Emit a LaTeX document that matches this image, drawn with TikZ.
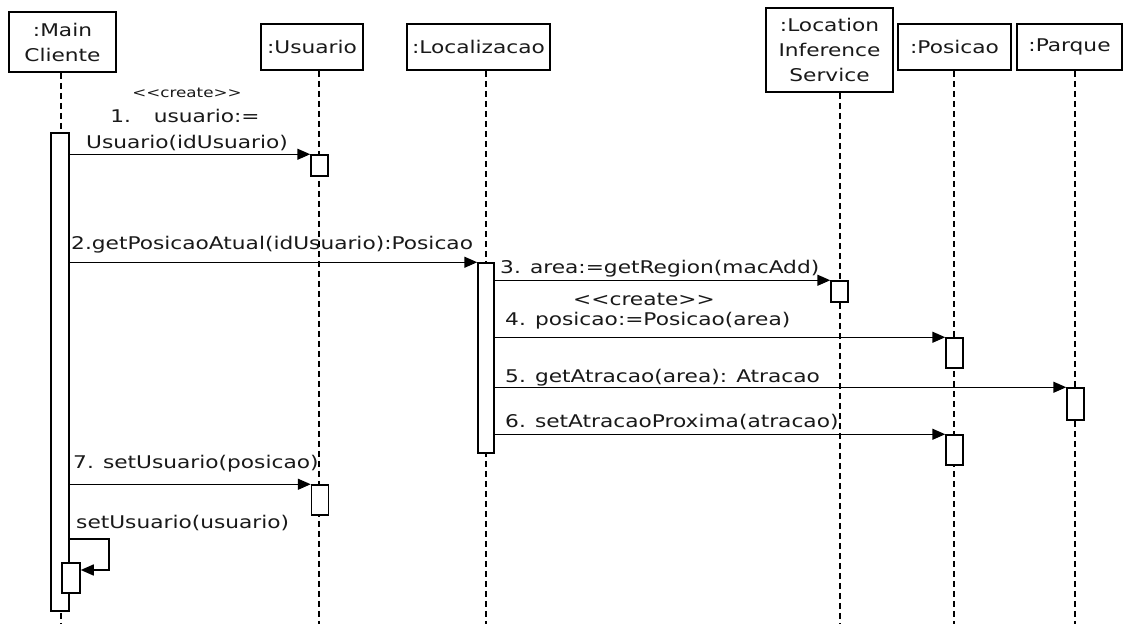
\documentclass[tikz,border=0pt]{standalone}
\usepackage{fontspec}
\setmainfont{DejaVu Sans}[FakeStretch=1.24]
\usetikzlibrary{arrows.meta}

\begin{document}
\begin{tikzpicture}[x=1pt,y=-1pt,
  every node/.style={font=\fontsize{17.5}{25}\selectfont, text=black!90},
  obj/.style={draw, line width=1.5pt, fill=white, inner sep=0pt, align=center},
  act/.style={draw, line width=1.5pt, fill=white, inner sep=0pt, minimum width=17pt},
  life/.style={line width=1.3pt, dash pattern=on 6pt off 4pt},
  msg/.style={line width=1.5pt, -{Triangle[length=13pt,width=11pt]}},
  lbl/.style={anchor=base west, inner sep=0pt},
  clbl/.style={anchor=base, inner sep=0pt},
  small/.style={font=\fontsize{13.5}{15}\selectfont}]

\useasboundingbox (0,0) rectangle (1125,624);
\fill[white] (0,0) rectangle (1125,624);

% object headers
\node[obj, minimum width=107pt, minimum height=60pt] (hMain) at (62.5,42) {:Main\\Cliente};
\node[obj, minimum width=102pt, minimum height=46pt] (hUsu) at (312,47) {:Usuario};
\node[obj, minimum width=143pt, minimum height=46pt] (hLoc) at (478.5,47) {:Localizacao};
\node[obj, minimum width=127pt, minimum height=84pt] (hLIS) at (829.5,50) {:Location\\Inference\\Service};
\node[obj, minimum width=113pt, minimum height=46pt] (hPos) at (954.5,47) {:Posicao};
\node[obj, minimum width=105pt, minimum height=46pt] (hPar) at (1069.5,47) {:Parque};

% lifelines
\coordinate (eMain) at (61,624);
\coordinate (eUsu) at (319,624);
\coordinate (eLoc) at (486,624);
\coordinate (eLIS) at (840,624);
\coordinate (ePos) at (954,624);
\coordinate (ePar) at (1075,624);
\draw[life] (hMain.south -| eMain) -- (eMain);
\draw[life] (hUsu.south -| eUsu) -- (eUsu);
\draw[life] (hLoc.south -| eLoc) -- (eLoc);
\draw[life] (hLIS.south -| eLIS) -- (eLIS);
\draw[life] (hPos.south -| ePos) -- (ePos);
\draw[life] (hPar.south -| ePar) -- (ePar);

% activation bars
\node[act, minimum width=18pt, minimum height=478pt] (aMain) at (60,372) {};
\node[act, minimum height=21pt] (aU1) at (319.5,165.5) {};
\node[act, minimum width=16pt, minimum height=190pt] (aLoc) at (486,358) {};
\node[act, minimum height=21pt] (aLIS) at (839.5,291.5) {};
\node[act, minimum height=30pt] (aP1) at (954.5,353) {};
\node[act, minimum height=32pt] (aPar) at (1075.5,404) {};
\node[act, minimum height=30pt] (aP2) at (954.5,450) {};
\node[act, minimum height=30pt] (aU2) at (320,500) {};
\node[act, minimum width=18pt, minimum height=30pt] (aSelf) at (71,578) {};

% messages
\draw[msg] (aMain.east |- aU1.north west) -- (aU1.north west);
\draw[msg] (aMain.east |- aLoc.north west) -- (aLoc.north west);
\draw[msg] (aLoc.east |- aLIS.north west) -- (aLIS.north west);
\draw[msg] (aLoc.east |- aP1.north west) -- (aP1.north west);
\draw[msg] (aLoc.east |- aPar.north west) -- (aPar.north west);
\draw[msg] (aLoc.east |- aP2.north west) -- (aP2.north west);
\draw[msg] (aMain.east |- aU2.north west) -- (aU2.north west);
\coordinate (sOut) at (69,539);
\coordinate (sTurn) at (109,570);
\draw[msg] (aMain.east |- sOut) -| (sTurn) -- (aSelf.east |- sTurn);

% message labels
\node[clbl, small] (t1a) at (187,97) {<\kern0pt<create>\kern0pt>};
\node[clbl] (t1b) at (185,122) {1.\hspace{1.3em}usuario:=};
\node[clbl] (t1c) at (187,148) {Usuario(idUsuario)};
\node[lbl] (t2) at (71,249) {2.getPosicaoAtual(idUsuario):Posicao};
\node[lbl] (t3) at (500,273) {3. area:=getRegion(macAdd)};
\node[lbl] (t4s) at (573,305) {<\kern0pt<create>\kern0pt>};
\node[lbl] (t4) at (505,325) {4. posicao:=Posicao(area)};
\node[lbl] (t5) at (505,382) {5. getAtracao(area): Atracao};
\node[lbl] (t6) at (505,427) {6. setAtracaoProxima(atracao)};
\node[lbl] (t7) at (73,468) {7. setUsuario(posicao)};
\node[lbl] (t8) at (76,528) {setUsuario(usuario)};
\end{tikzpicture}
\end{document}
